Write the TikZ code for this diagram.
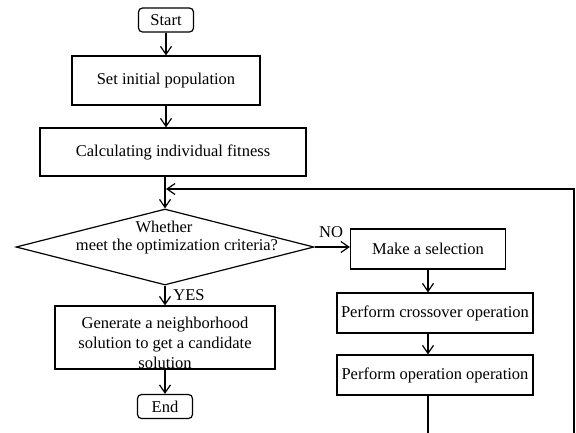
\documentclass[tikz,border=0pt]{standalone}
\usepackage{fontspec}
\setmainfont{Liberation Serif}
\usetikzlibrary{arrows.meta,shapes.geometric}
\tikzset{
  box/.style={draw, line width=1.2pt, inner sep=0pt, align=center},
  term/.style={box, rounded corners=4pt},
  arr/.style={line width=1.2pt, -{Straight Barb[length=8pt,width=11pt,line width=1.2pt]}},
  ln/.style={line width=1.2pt},
  txt/.style={inner sep=0pt, align=center}
}
\begin{document}
\begin{tikzpicture}[x=1pt,y=-1pt,font=\fontsize{16.5}{20}\selectfont]
\useasboundingbox (0,0) rectangle (576,432);
\node[term, minimum width=55pt, minimum height=24pt] (start) at (166,20) {Start};
\node[box, minimum width=188pt, minimum height=49pt] (set) at (166,80.5) {Set initial population};
\node[box, minimum width=266pt, minimum height=48pt] (fit) at (173,152) {Calculating individual fitness};
\node[draw, line width=1.2pt, diamond, inner sep=0pt, minimum width=298pt, minimum height=76pt] (dia) at (165,247) {};
\node[txt] (dt1) at (164,227) {Whether};
\node[txt] (dt2) at (177,247) {meet the optimization criteria?};
\node[box, minimum width=155pt, minimum height=40pt] (sel) at (428,249) {Make a selection};
\node[box, minimum width=196pt, minimum height=40pt] (cross) at (435,313) {Perform crossover operation};
\node[box, minimum width=196pt, minimum height=40pt] (oper) at (435,375) {Perform operation operation};
\node[box, minimum width=220pt, minimum height=63pt] (gen) at (165,337.5) {};
\node[txt] (gentext) at (165,342.5) {Generate a neighborhood\\solution to get a candidate\\solution};
\node[term, minimum width=55pt, minimum height=24pt] (end) at (165,406.5) {End};
\node[txt] (no) at (331,232) {NO};
\node[txt] (yes) at (189,295) {YES};
\coordinate (turn) at (574,450);
\coordinate (merge) at (166,189);
\draw[arr] (start) -- (set);
\draw[arr] (set.south) -- (set.south |- fit.north);
\draw[arr] (fit.south -| dia.north) -- (dia.north);
\draw[arr] (dia.east) -- (sel.west |- dia.east);
\draw[arr] (dia.south) -- (gen.north);
\draw[arr] (gen.south) -- (end.north);
\draw[arr] (sel.south) -- (sel.south |- cross.north);
\draw[arr] (cross.south -| sel.south) -- (oper.north -| sel.south);
\draw[arr] (oper.south -| sel.south) |- (turn) |- (merge);
\end{tikzpicture}
\end{document}
